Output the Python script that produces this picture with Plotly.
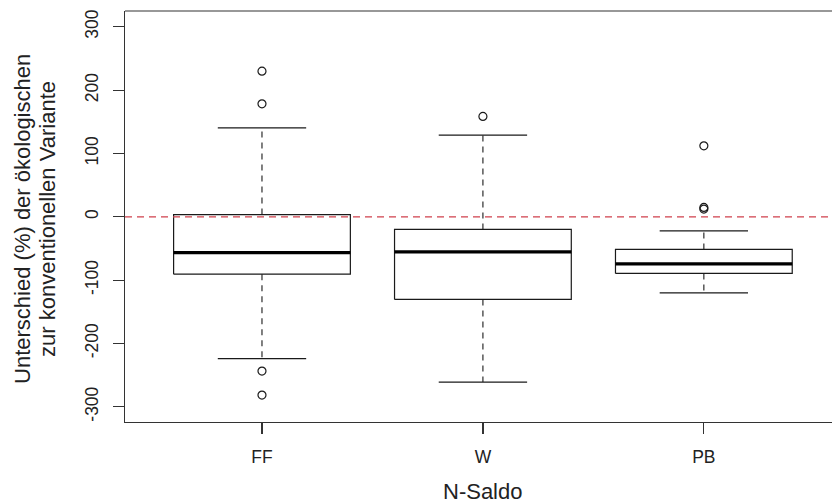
import plotly.graph_objects as go

categories = ["FF", "W", "PB"]
q1 = [-90.5, -130.4, -89.4]
median = [-56.5, -55.3, -74.2]
q3 = [3.5, -19.9, -51.5]
lower_whisker = [-224.0, -261.0, -120.0]
upper_whisker = [140.5, 129.0, -22.1]
outliers = [
    [230.0, 178.4, -243.6, -281.5],
    [158.5],
    [112.1, 14.8, 12.2],
]
y_ticks = [-300, -200, -100, 0, 100, 200, 300]
y_tick_labels = ["-300", "-200", "-100", "0", "100", "200", "300"]
reference_value = 0
y_title_lines = ["Unterschied (%) der ökologischen", "zur konventionellen Variante"]
x_title = "N-Saldo"

positions = [1, 2, 3]
half_box = 0.4
half_cap = 0.2
ink = "#1a1a1a"
frame = "#333"
font_family = "Liberation Sans, Arial, sans-serif"

fig = go.Figure()
for i, p in enumerate(positions):
    fig.add_trace(go.Scatter(
        x=[p - half_box, p + half_box, p + half_box, p - half_box, p - half_box],
        y=[q1[i], q1[i], q3[i], q3[i], q1[i]],
        mode="lines", line=dict(color=ink, width=1.2), showlegend=False, hoverinfo="skip"))
    for a, b in [(q3[i], upper_whisker[i]), (q1[i], lower_whisker[i])]:
        fig.add_trace(go.Scatter(
            x=[p, p], y=[a, b], mode="lines",
            line=dict(color=ink, width=1.1, dash="6px,5px"), showlegend=False, hoverinfo="skip"))
    for w in [upper_whisker[i], lower_whisker[i]]:
        fig.add_trace(go.Scatter(
            x=[p - half_cap, p + half_cap], y=[w, w], mode="lines",
            line=dict(color=ink, width=1.2), showlegend=False, hoverinfo="skip"))
    fig.add_trace(go.Scatter(
        x=[p - half_box, p + half_box], y=[median[i], median[i]], mode="lines",
        line=dict(color="black", width=3.2), showlegend=False, hoverinfo="skip"))
    fig.add_trace(go.Scatter(
        x=[p] * len(outliers[i]), y=outliers[i], mode="markers",
        marker=dict(symbol="circle-open", size=8, color=ink, line=dict(width=1.2)),
        showlegend=False, hoverinfo="skip"))

fig.add_shape(type="line", xref="paper", x0=0, x1=1, yref="y", y0=reference_value, y1=reference_value,
              line=dict(color="#d0404c", width=1.2, dash="7px,5px"), layer="above")
fig.add_shape(type="line", xref="paper", x0=0, x1=1, yref="paper", y0=1, y1=1,
              line=dict(color=frame, width=1.2), layer="above")

fig.add_annotation(text=x_title, x=2, xref="x", y=-0.1696, yref="paper",
                   xanchor="center", yanchor="middle", showarrow=False,
                   font=dict(family=font_family, size=22, color="#222"))
for line_text, xpos in zip(y_title_lines, [-0.1443, -0.1089]):
    fig.add_annotation(text=line_text, x=xpos, xref="paper", y=0.494, yref="paper",
                       xanchor="center", yanchor="middle", textangle=-90, showarrow=False,
                       font=dict(family=font_family, size=22, color="#222"))

fig.update_layout(
    width=832, height=504,
    margin=dict(l=125, r=0, t=11, b=82),
    paper_bgcolor="white", plot_bgcolor="white",
    font=dict(family=font_family, size=17.5, color="#222"),
    xaxis=dict(range=[0.38, 3.58], tickvals=positions, ticktext=categories,
               showgrid=False, zeroline=False, showline=True, mirror=False,
               linecolor=frame, linewidth=1.2, ticks="outside", ticklen=11,
               tickcolor=frame, tickwidth=1.2, ticklabelstandoff=8),
    yaxis=dict(range=[-324, 325], tickvals=y_ticks, ticktext=y_tick_labels, tickangle=-90,
               showgrid=False, zeroline=False, showline=True, mirror=False,
               linecolor=frame, linewidth=1.2, ticks="outside", ticklen=11,
               tickcolor=frame, tickwidth=1.2, ticklabelstandoff=8),
)

fig.write_html(
    "out.html",
    config={"displayModeBar": False, "staticPlot": True},
    post_script="document.body.style.margin='0';document.body.style.overflow='hidden';",
)
